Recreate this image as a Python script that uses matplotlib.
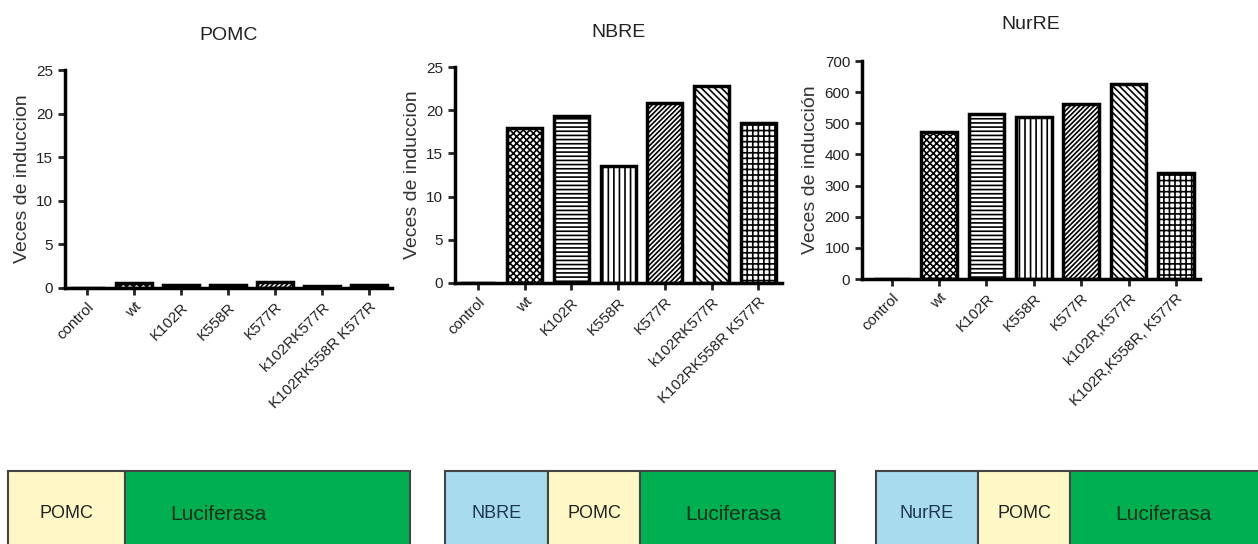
import matplotlib
matplotlib.use("Agg")
import matplotlib.pyplot as plt
from matplotlib.patches import Rectangle

plt.rcParams['font.family'] = ['Liberation Sans', 'DejaVu Sans']
plt.rcParams['hatch.linewidth'] = 1.2

### data
labels_pomc = ["control", "wt", "K102R", "K558R", "K577R", "k102RK577R", "K102RK558R K577R"]
labels_nbre = ["control", "wt", "K102R", "K558R", "K577R", "k102RK577R", "K102RK558R K577R"]
labels_nurre = ["control", "wt", "K102R", "K558R", "K577R", "k102R,K577R", "K102R,K558R, K577R"]
vals_pomc = [0, 0.6, 0.4, 0.4, 0.7, 0.2, 0.3]
vals_nbre = [0, 17.9, 19.3, 13.5, 20.8, 22.8, 18.5]
vals_nurre = [0, 472, 530, 520, 562, 627, 340]
hatches = ['', 'xxxxx', '----', '|||', '///////', '\\\\\\\\\\', '+++']

fig = plt.figure(figsize=(12.58, 5.44), dpi=100)

def panel(rect, labels, vals, title, ylabel, ymax, ystep, xlim, title_y):
    ax = fig.add_axes(rect)
    x = range(len(vals))
    ax.bar(x, vals, width=0.75, color='white', edgecolor='black',
           linewidth=2.5, hatch=hatches)
    ax.set_xlim(*xlim)
    ax.set_ylim(0, ymax)
    ax.set_yticks(range(0, ymax + 1, ystep))
    ax.set_xticks(list(x))
    ax.set_xticklabels(labels, rotation=45, ha='right', rotation_mode='anchor',
                       fontsize=11, color='#222222')
    ax.spines['top'].set_visible(False)
    ax.spines['right'].set_visible(False)
    ax.spines['left'].set_linewidth(2.5)
    ax.spines['bottom'].set_linewidth(2.5)
    ax.tick_params(axis='both', length=5, width=2, labelsize=11, colors='#222222')
    ax.set_ylabel(ylabel, fontsize=14, color='#333333', labelpad=4)
    ax.set_title(title, fontsize=14, color='#222222', y=title_y)
    return ax

panel([0.0517, 0.4706, 0.260, 0.4007], labels_pomc, vals_pomc, "POMC",
      "Veces de induccion", 25, 5, (-0.47, 6.49), 1.10)
panel([0.3617, 0.4798, 0.260, 0.3970], labels_nbre, vals_nbre, "NBRE",
      "Veces de induccion", 25, 5, (-0.49, 6.51), 1.10)
panel([0.6852, 0.4871, 0.2687, 0.4007], labels_nurre, vals_nurre, "NurRE",
      "Veces de inducción", 700, 100, (-0.63, 6.51), 1.11)

### construct diagrams at the bottom, drawn in pixel units
box = fig.add_axes([0, 0, 1, 1])
box.set_xlim(0, 1258)
box.set_ylim(544, 0)
box.axis('off')

yellow = '#FFF8C6'
green = '#00B050'
blue = '#A8DCEC'
constructs = [
    (8, [("POMC", 117, yellow, '#222222'), ("Luciferasa", 285, green, '#10301a')]),
    (445, [("NBRE", 103, blue, '#1f3550'), ("POMC", 92, yellow, '#222222'), ("Luciferasa", 195, green, '#10301a')]),
    (876, [("NurRE", 102, blue, '#1f3550'), ("POMC", 92, yellow, '#222222'), ("Luciferasa", 200, green, '#10301a')]),
]
for x0, parts in constructs:
    xs = x0
    for name, w, col, tcol in parts:
        box.add_patch(Rectangle((xs, 471), w, 90, facecolor=col, edgecolor='#444444', linewidth=1.5))
        if name == "Luciferasa":
            box.text(xs + 45, 514, name, fontsize=15, color=tcol, va='center', ha='left')
        else:
            box.text(xs + w / 2, 514, name, fontsize=13, color=tcol, va='center', ha='center')
        xs += w

fig.savefig("out.png", dpi=100)
